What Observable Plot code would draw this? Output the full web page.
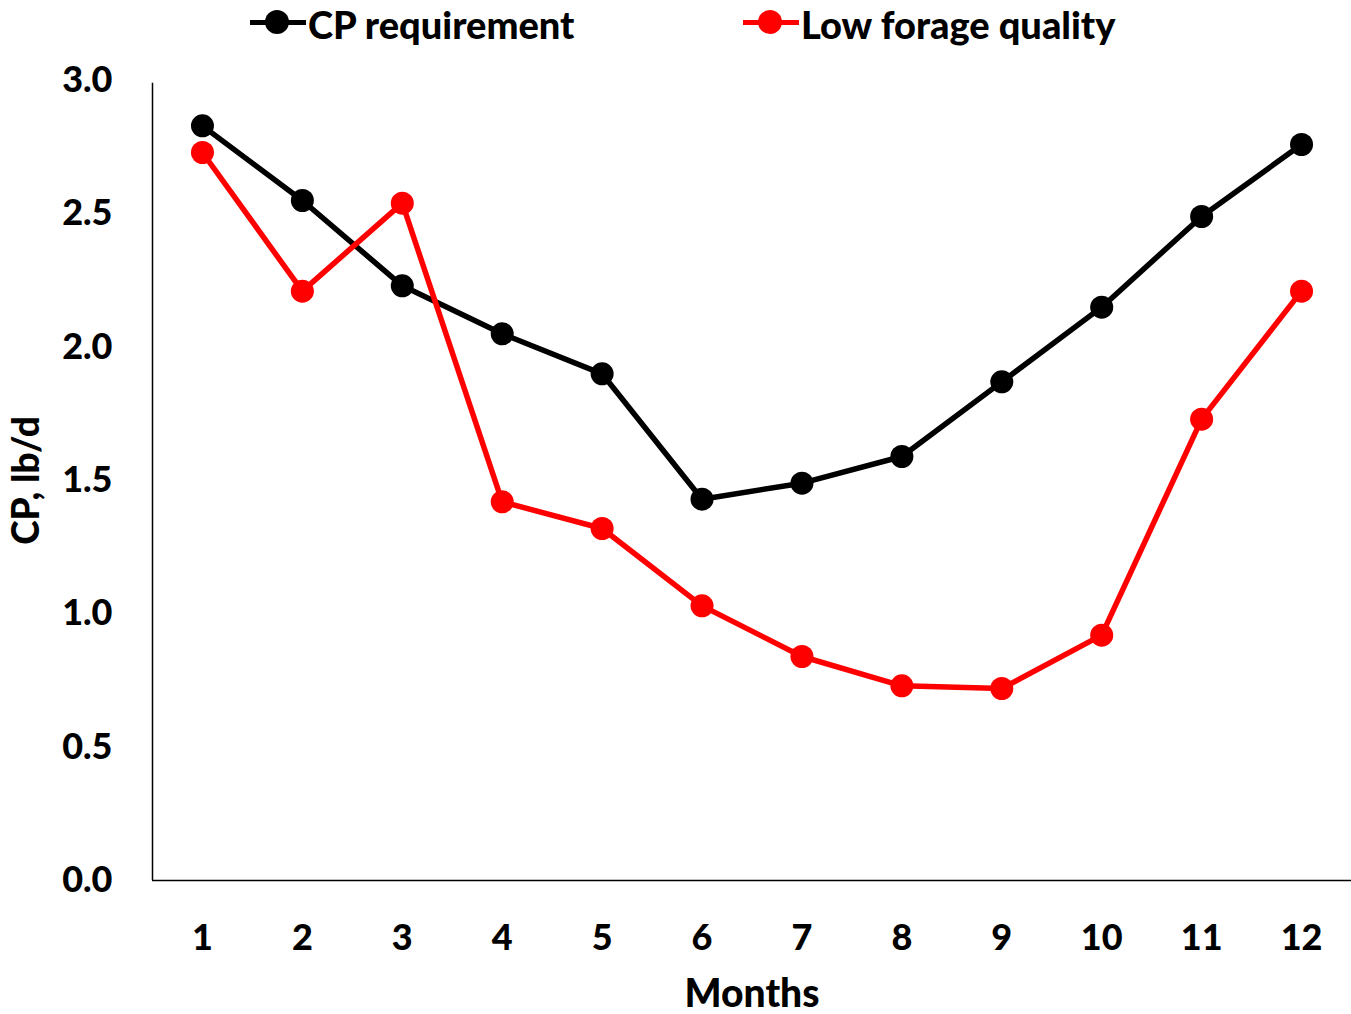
<!DOCTYPE html>
<html>
<head>
<meta charset="utf-8">
<script src="https://cdn.jsdelivr.net/npm/d3@7"></script>
<script src="https://cdn.jsdelivr.net/npm/@observablehq/plot@0.6"></script>
<style>
  html, body { margin: 0; padding: 0; background: #fff; }
  #wrap { position: relative; width: 1351px; height: 1014px; font-family: Lato, "Open Sans", sans-serif; font-weight: 900; }
  #legend { position: absolute; top: 0; left: 0; width: 1351px; height: 48px; }
  .item { position: absolute; top: 2px; display: flex; align-items: center; font-size: 38px; color: #000; line-height: 44px; }
  .sw { position: relative; width: 56px; height: 40px; margin-right: 2px; }
  .sw .ln { position: absolute; left: 0; right: 0; top: 16px; height: 5px; }
  .sw .dt { position: absolute; left: 15px; top: 6px; width: 24px; height: 24px; border-radius: 50%; }
</style>
</head>
<body>
<div id="wrap">
  <div id="chart"></div>
  <div id="legend"></div>
</div>
<script>
const months = [1,2,3,4,5,6,7,8,9,10,11,12];
const cpRequirement = [2.83, 2.55, 2.23, 2.05, 1.90, 1.43, 1.49, 1.59, 1.87, 2.15, 2.49, 2.76];
const lowForage = [2.73, 2.21, 2.54, 1.42, 1.32, 1.03, 0.84, 0.73, 0.72, 0.92, 1.73, 2.21];
const seriesNames = ["CP requirement", "Low forage quality"];
const seriesColors = ["#000000", "#ff0000"];
const yTicks = [0, 0.5, 1.0, 1.5, 2.0, 2.5, 3.0];

const data = [];
months.forEach((m, i) => {
  data.push({month: m, value: cpRequirement[i], series: seriesNames[0]});
  data.push({month: m, value: lowForage[i], series: seriesNames[1]});
});

const chart = Plot.plot({
  width: 1351,
  height: 1014,
  marginLeft: 152,
  marginRight: 0,
  marginTop: 80,
  marginBottom: 134,
  style: {fontFamily: "Lato, 'Open Sans', sans-serif", fontWeight: "900", fontSize: "36px", color: "#000", background: "#fff"},
  x: {domain: [0.5, 12.5]},
  y: {domain: [0, 3]},
  color: {domain: seriesNames, range: seriesColors},
  marks: [
    Plot.axisX({ticks: months, tickSize: 0, tickPadding: 44, tickFormat: d => String(d), label: null}),
    Plot.axisY({ticks: yTicks, tickSize: 0, tickPadding: 40, tickFormat: d3.format(".1f"), label: null}),
    Plot.ruleY([0], {stroke: "#000", strokeWidth: 1.5}),
    Plot.ruleX([0.5], {y1: 0, y2: 2.99, stroke: "#000", strokeWidth: 1.5}),
    Plot.line(data, {x: "month", y: "value", stroke: "series", z: "series", strokeWidth: 5.5}),
    Plot.dot(data, {x: "month", y: "value", fill: "series", r: 11.5}),
    Plot.text(["Months"], {frameAnchor: "bottom", dy: 126, text: d => d, fontSize: 39}),
    Plot.text(["CP, lb/d"], {frameAnchor: "left", textAnchor: "middle", dx: -125, dy: 0, rotate: -90, text: d => d, fontSize: 37})
  ]
});
document.getElementById("chart").appendChild(chart);

const legend = document.getElementById("legend");
const lefts = [250, 743];
seriesNames.forEach((name, i) => {
  const it = document.createElement("div");
  it.className = "item";
  it.style.left = lefts[i] + "px";
  it.innerHTML = `<div class="sw"><div class="ln" style="background:${seriesColors[i]}"></div><div class="dt" style="background:${seriesColors[i]}"></div></div><span>${name}</span>`;
  legend.appendChild(it);
});
</script>
</body>
</html>
